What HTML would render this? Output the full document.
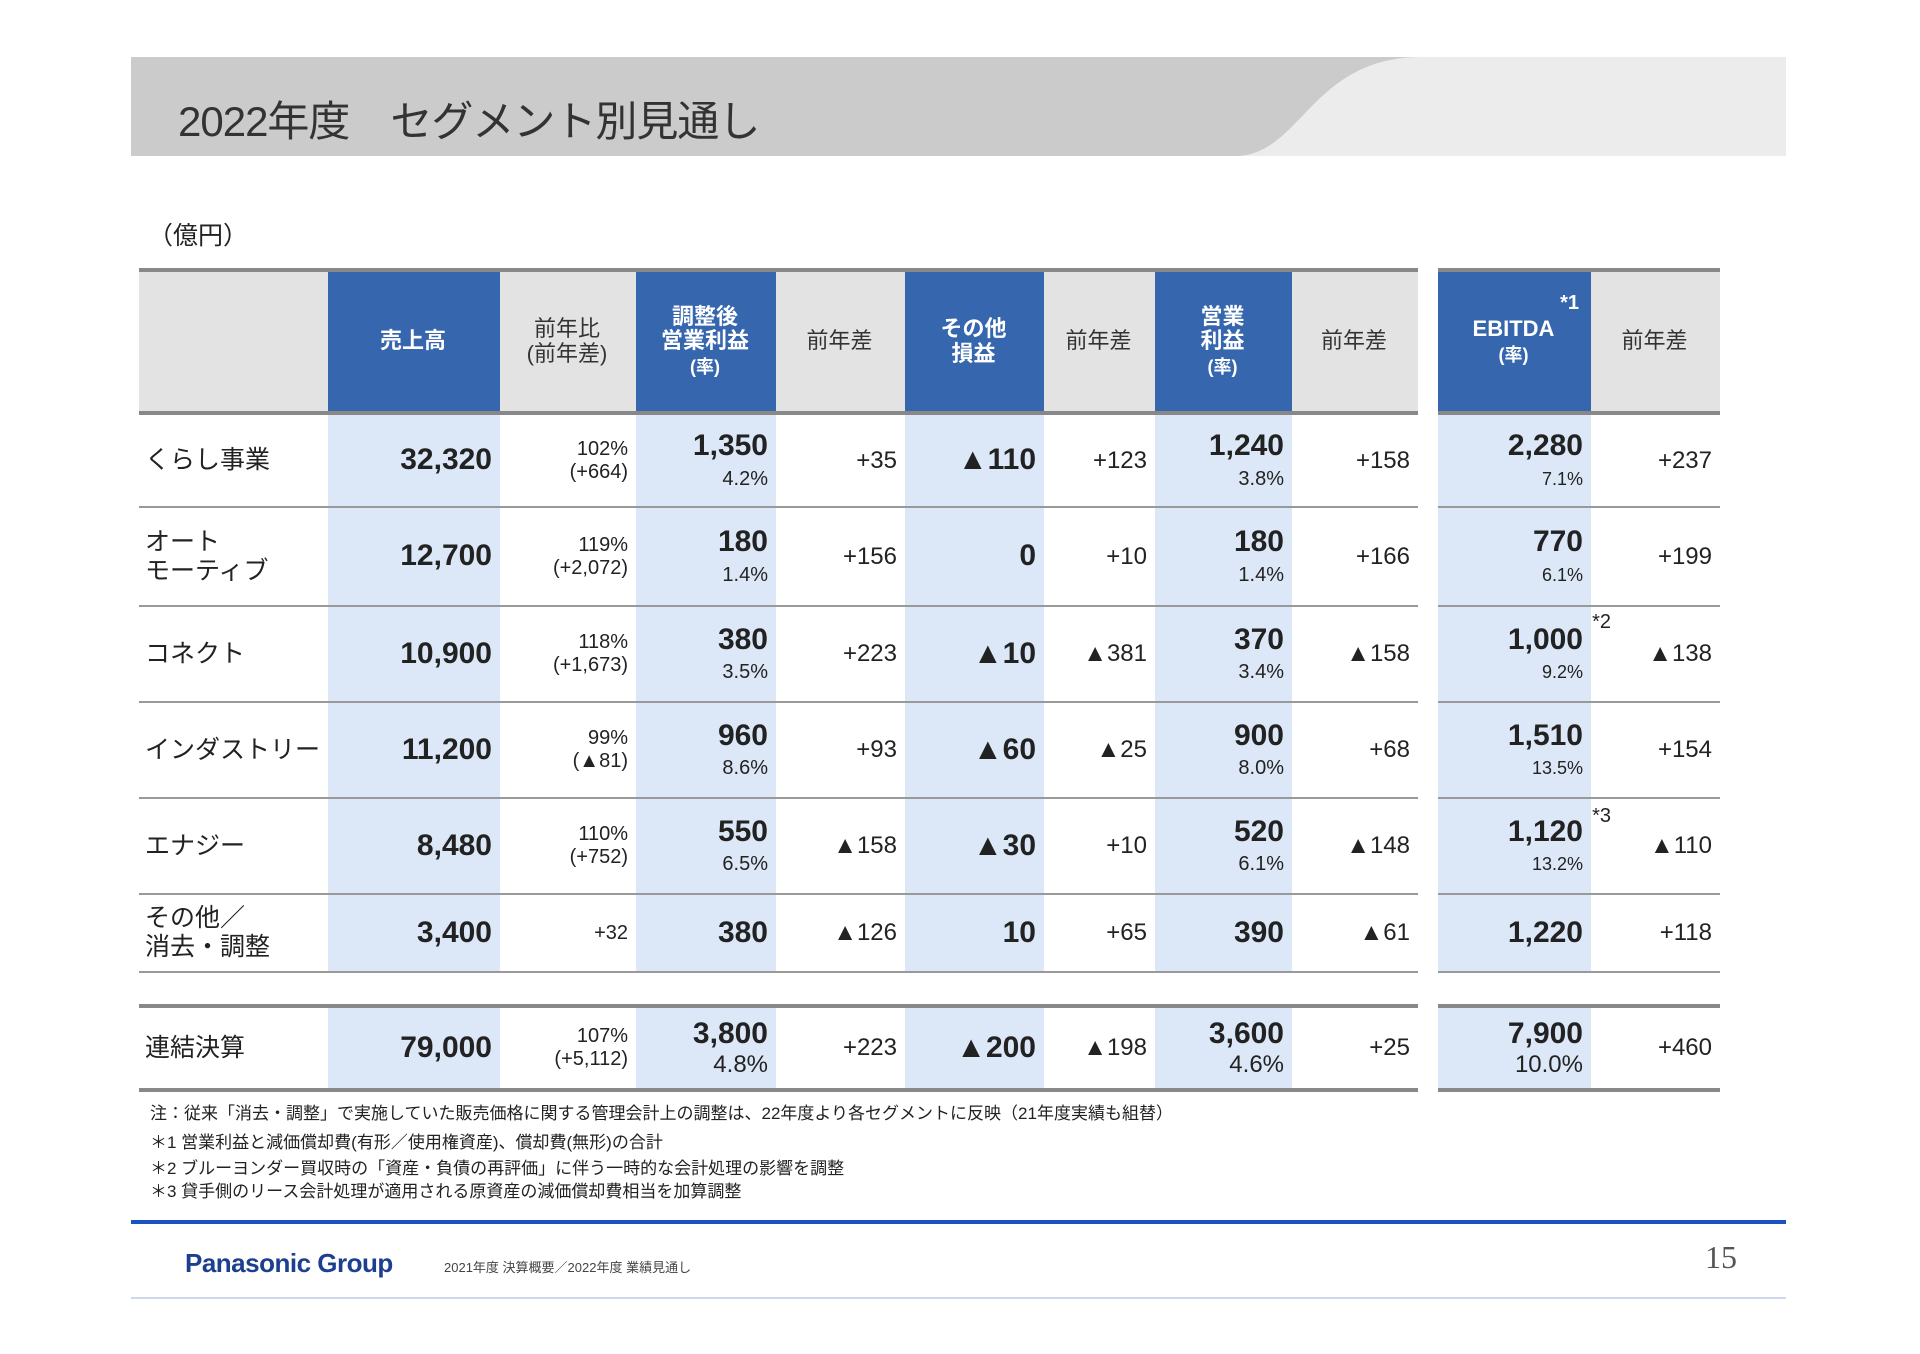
<!DOCTYPE html>
<html><head><meta charset="utf-8">
<style>
body{margin:0;width:1920px;height:1354px;background:#fff;position:relative;overflow:hidden;font-family:"Liberation Sans","Noto Sans CJK JP",sans-serif;color:#222}
.abs{position:absolute}
table{border-collapse:collapse;table-layout:fixed;position:absolute}
td{padding:0 8px 0 6px;text-align:right;vertical-align:middle;font-size:24px;line-height:1.15}
tr.h td{background:#e3e3e3;text-align:center;font-size:22px;color:#333;border-top:4px solid #888;border-bottom:4px solid #888;line-height:1.1}
tr.h td.b{background:#3566ae;color:#fff;font-weight:bold}
tr.r td{border-bottom:2px solid #999}
td.lb{background:#dce8f7}
td.name{text-align:left;font-size:25px;padding-left:6px}
.big{font-weight:bold;font-size:30px}
.sm{font-size:20px}
tr.sp td{border:none;background:none}
tr.t td{border-top:4px solid #888;border-bottom:4px solid #888}
.note{font-size:17px;left:150px;color:#222}
</style></head><body>
<svg class="abs" style="left:131px;top:57px" width="1655" height="99">
<rect width="1655" height="99" fill="#cbcbcb"/>
<path d="M1104 99 C1170 99 1180 0 1290 0 L1655 0 L1655 99 Z" fill="#ececec"/>
</svg>
<div class="abs" style="left:178px;top:88px;font-size:42px;color:#333;letter-spacing:-1px">2022年度　セグメント別見通し</div>
<div class="abs" style="left:148px;top:216px;font-size:25px">（億円）</div>

<table style="left:139px;top:268px;width:1279px">
<colgroup><col style="width:189px"><col style="width:172px"><col style="width:136px"><col style="width:140px"><col style="width:129px"><col style="width:139px"><col style="width:111px"><col style="width:137px"><col style="width:126px"></colgroup>
<tr class="h" style="height:143px"><td></td><td class="b">売上高</td><td>前年比<br>(前年差)</td><td class="b">調整後<br>営業利益<br><span style="font-size:18px">(率)</span></td><td>前年差</td><td class="b">その他<br>損益</td><td>前年差</td><td class="b">営業<br>利益<br><span style="font-size:18px">(率)</span></td><td>前年差</td></tr>
<tr class="r" style="height:94px"><td class="name">くらし事業</td><td class="lb big">32,320</td><td class="sm">102%<br>(+664)</td><td class="lb"><span class="big">1,350</span><br><span class="sm">4.2%</span></td><td>+35</td><td class="lb big">▲110</td><td>+123</td><td class="lb"><span class="big">1,240</span><br><span class="sm">3.8%</span></td><td>+158</td></tr>
<tr class="r" style="height:99px"><td class="name">オート<br>モーティブ</td><td class="lb big">12,700</td><td class="sm">119%<br>(+2,072)</td><td class="lb"><span class="big">180</span><br><span class="sm">1.4%</span></td><td>+156</td><td class="lb big">0</td><td>+10</td><td class="lb"><span class="big">180</span><br><span class="sm">1.4%</span></td><td>+166</td></tr>
<tr class="r" style="height:96px"><td class="name">コネクト</td><td class="lb big">10,900</td><td class="sm">118%<br>(+1,673)</td><td class="lb"><span class="big">380</span><br><span class="sm">3.5%</span></td><td>+223</td><td class="lb big">▲10</td><td>▲381</td><td class="lb"><span class="big">370</span><br><span class="sm">3.4%</span></td><td>▲158</td></tr>
<tr class="r" style="height:96px"><td class="name">インダストリー</td><td class="lb big">11,200</td><td class="sm">99%<br>(▲81)</td><td class="lb"><span class="big">960</span><br><span class="sm">8.6%</span></td><td>+93</td><td class="lb big">▲60</td><td>▲25</td><td class="lb"><span class="big">900</span><br><span class="sm">8.0%</span></td><td>+68</td></tr>
<tr class="r" style="height:96px"><td class="name">エナジー</td><td class="lb big">8,480</td><td class="sm">110%<br>(+752)</td><td class="lb"><span class="big">550</span><br><span class="sm">6.5%</span></td><td>▲158</td><td class="lb big">▲30</td><td>+10</td><td class="lb"><span class="big">520</span><br><span class="sm">6.1%</span></td><td>▲148</td></tr>
<tr class="r" style="height:78px"><td class="name">その他／<br>消去・調整</td><td class="lb big">3,400</td><td class="sm">+32</td><td class="lb big">380</td><td>▲126</td><td class="lb big">10</td><td>+65</td><td class="lb big">390</td><td>▲61</td></tr>
<tr class="sp" style="height:34px"><td colspan="9"></td></tr>
<tr class="t" style="height:84px"><td class="name">連結決算</td><td class="lb big">79,000</td><td class="sm">107%<br>(+5,112)</td><td class="lb"><span class="big">3,800</span><br><span style="font-size:24px">4.8%</span></td><td>+223</td><td class="lb big">▲200</td><td>▲198</td><td class="lb"><span class="big">3,600</span><br><span style="font-size:24px">4.6%</span></td><td>+25</td></tr>
</table>

<table style="left:1438px;top:268px;width:282px">
<colgroup><col style="width:153px"><col style="width:129px"></colgroup>
<tr class="h" style="height:143px"><td class="b" style="position:relative">EBITDA<br><span style="font-size:18px">(率)</span><span style="position:absolute;right:12px;top:20px;font-size:20px">*1</span></td><td>前年差</td></tr>
<tr class="r" style="height:94px"><td class="lb"><span class="big">2,280</span><br><span style="font-size:18px">7.1%</span></td><td>+237</td></tr>
<tr class="r" style="height:99px"><td class="lb"><span class="big">770</span><br><span style="font-size:18px">6.1%</span></td><td>+199</td></tr>
<tr class="r" style="height:96px"><td class="lb" style="position:relative"><span class="big">1,000</span><br><span style="font-size:18px">9.2%</span><span style="position:absolute;right:-20px;top:4px;font-size:20px">*2</span></td><td>▲138</td></tr>
<tr class="r" style="height:96px"><td class="lb"><span class="big">1,510</span><br><span style="font-size:18px">13.5%</span></td><td>+154</td></tr>
<tr class="r" style="height:96px"><td class="lb" style="position:relative"><span class="big">1,120</span><br><span style="font-size:18px">13.2%</span><span style="position:absolute;right:-20px;top:6px;font-size:20px">*3</span></td><td>▲110</td></tr>
<tr class="r" style="height:78px"><td class="lb big">1,220</td><td>+118</td></tr>
<tr class="sp" style="height:34px"><td colspan="2"></td></tr>
<tr class="t" style="height:84px"><td class="lb"><span class="big">7,900</span><br><span style="font-size:24px">10.0%</span></td><td>+460</td></tr>
</table>

<div class="abs note" style="top:1099px">注：従来「消去・調整」で実施していた販売価格に関する管理会計上の調整は、22年度より各セグメントに反映（21年度実績も組替）</div>
<div class="abs note" style="top:1128px">＊1 営業利益と減価償却費(有形／使用権資産)、償却費(無形)の合計</div>
<div class="abs note" style="top:1154px">＊2 ブルーヨンダー買収時の「資産・負債の再評価」に伴う一時的な会計処理の影響を調整</div>
<div class="abs note" style="top:1177px">＊3 貸手側のリース会計処理が適用される原資産の減価償却費相当を加算調整</div>

<div class="abs" style="left:131px;top:1220px;width:1655px;height:4px;background:#1a52c0"></div>
<div class="abs" style="left:185px;top:1248px;font-size:26px;font-weight:bold;color:#1c3f8f;letter-spacing:-0.5px">Panasonic Group</div>
<div class="abs" style="left:444px;top:1257px;font-size:13px;color:#444">2021年度 決算概要／2022年度 業績見通し</div>
<div class="abs" style="left:1705px;top:1239px;font-size:32px;color:#555;font-family:'Liberation Serif',serif">15</div>
<div class="abs" style="left:131px;top:1297px;width:1655px;height:2px;background:#cfd8ea"></div>
</body></html>
